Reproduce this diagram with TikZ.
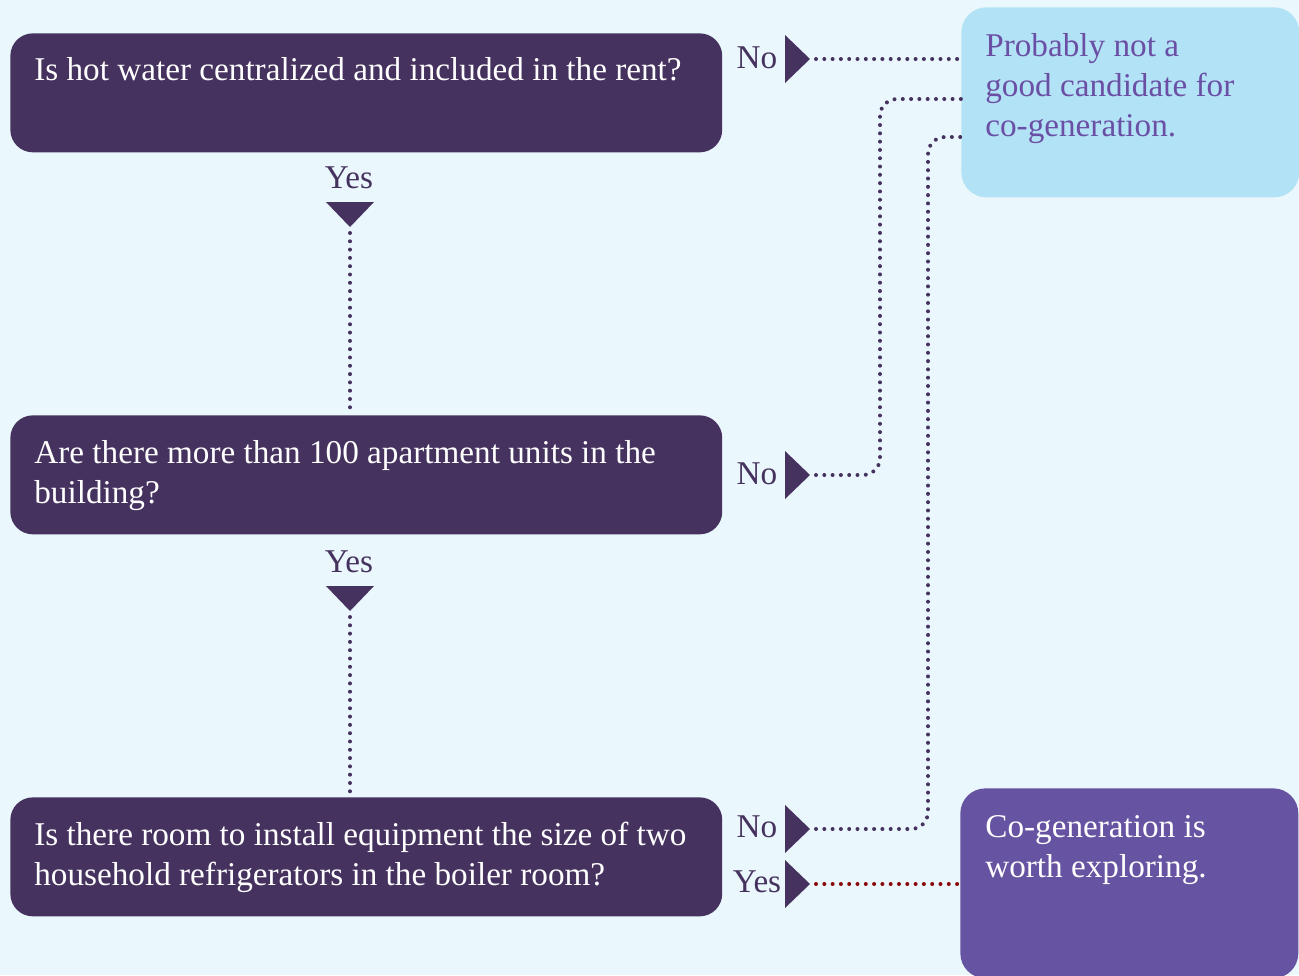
\documentclass[tikz,border=0pt]{standalone}
\usepackage{fontspec}
\setmainfont{Liberation Serif}
\usetikzlibrary{calc}
\definecolor{bgc}{HTML}{EAF7FC}
\definecolor{darkq}{HTML}{46325F}
\definecolor{lightbox}{HTML}{B2E2F5}
\definecolor{lighttext}{HTML}{6A4FA5}
\definecolor{purplebox}{HTML}{6653A1}
\definecolor{redline}{HTML}{8B0A0A}
\begin{document}
\begin{tikzpicture}[x=0.02cm,y=-0.02cm,
  qbox/.style={fill=darkq, draw=none, rounded corners=0.45cm, inner sep=0pt, anchor=north west, minimum width=14.24cm, minimum height=2.38cm},
  lbox/.style={fill=lightbox, draw=none, rounded corners=0.5cm, inner sep=0pt, anchor=north west, minimum width=6.76cm, minimum height=3.8cm},
  pbox/.style={fill=purplebox, draw=none, rounded corners=0.5cm, inner sep=0pt, anchor=north west, minimum width=6.76cm, minimum height=3.8cm},
  txt/.style={font=\fontsize{18.9}{22.7}\selectfont, inner sep=0pt, anchor=base west, align=left},
  qtext/.style={txt, text=white},
  rtext/.style={txt, text=lighttext},
  lbl/.style={font=\fontsize{18.9}{22.7}\selectfont, inner sep=0pt, anchor=base, text=darkq},
  tri/.style={fill=darkq},
  dotline/.style={draw=darkq, line width=0.08cm, line cap=round, dash pattern=on 0pt off 0.166cm},
  redline/.style={dotline, draw=redline}
]
\useasboundingbox (0,0) rectangle (1299,975);
\clip (0,0) rectangle (1299,975);
\fill[bgc] (0,0) rectangle (1299,975);

% boxes
\node[qbox] (q1) at (10,33) {};
\node[qbox] (q2) at (10,415) {};
\node[qbox] (q3) at (10,797) {};
\node[lbox] (r1) at (961,7) {};
\node[pbox] (r2) at (960,788) {};

% texts (anchor = baseline of the last line)
\node[qtext] (q1t) at (34,80) {Is hot water centralized and included in the rent?};
\node[qtext] (q2t) at (34,503) {Are there more than 100 apartment units in the\\building?};
\node[qtext] (q3t) at (34,885) {Is there room to install equipment the size of two\\household refrigerators in the boiler room?};
\node[rtext] (r1t) at (985,136) {Probably not a\\good candidate for\\co-generation.};
\node[qtext] (r2t) at (985,877) {Co-generation is\\worth exploring.};

% labels
\node[lbl] (y1) at (349,188) {Yes};
\node[lbl] (y2) at (349,572) {Yes};
\node[lbl] (n1) at (757,68) {No};
\node[lbl] (n2) at (757,484) {No};
\node[lbl] (n3) at (757,837) {No};
\node[lbl] (y3) at (757,892) {Yes};

% triangle tips
\coordinate (ty1) at (350,227);
\coordinate (ty2) at (350,611);
\coordinate (tn1) at (810,59);
\coordinate (tn2) at (810,475);
\coordinate (tn3) at (810,829);
\coordinate (ty3) at (810,884);
\foreach \t in {ty1,ty2}{\fill[tri] (\t) -- ++(-24,-25) -- ++(48,0) -- cycle;}
\foreach \t in {tn1,tn2,tn3,ty3}{\fill[tri] (\t) -- ++(-25,-24) -- ++(0,48) -- cycle;}

% bends
\coordinate (k2) at (880,99);
\coordinate (k3) at (928,137);

% connectors
\draw[dotline] ($(ty1)+(0,6)$) -- (ty1 |- q2.north);
\draw[dotline] ($(ty2)+(0,6)$) -- (ty2 |- q3.north);
\draw[dotline] ($(tn1)+(6,0)$) -- (r1.west |- tn1);
\draw[dotline, rounded corners=0.34cm] ($(tn2)+(6,0)$) -| (k2) -- (r1.west |- k2);
\draw[dotline, rounded corners=0.34cm] ($(tn3)+(6,0)$) -| (k3) -- (r1.west |- k3);
\draw[redline] ($(ty3)+(6,0)$) -- (r2.west |- ty3);
\end{tikzpicture}
\end{document}
